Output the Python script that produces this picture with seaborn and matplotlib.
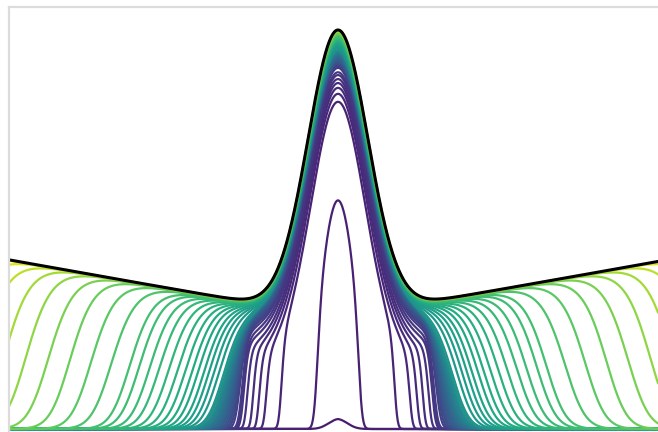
import numpy as np
import pandas as pd
import matplotlib
matplotlib.use("Agg")
import matplotlib.pyplot as plt
import seaborn as sns

# ---- envelope parameters (y in px above the baseline) ----
env_base = 109.5
env_slope = 0.18
env_round = 40.0
env_peak = 282.3
env_width = 30.0

# ---- level at which the front positions were read, and the tiny first bump ----
read_level = 89.0
bump_amp = 0.025
bump_front = 14.0

# ---- curves, inner (purple) to outer (yellow); first entry is the tiny bump ----
# distance from centre where each curve crosses read_level
front_cross = [None, 19.5, 53, 64, 71, 77, 82, 85, 87.5, 89.5,
               91, 91.8, 92.5, 93.2, 93.9, 94.5, 95.1, 95.7, 96.3, 96.9, 97.5, 98.1, 98.7, 99.3, 100, 101,
               103, 108, 113, 118, 123, 129, 135, 142, 150, 159, 169, 179, 190, 200,
               219, 240, 262, 284, 307, 329, 352, 376, 400]
front_s = [6, 2.5, 2, 2, 2, 2, 2.2, 2.4, 2.6, 2.8,
           3.5, 4, 4.5, 5, 5.5, 6, 6.5, 7, 7.5, 8, 8.5, 9, 9.5, 10, 10.5, 11,
           11, 11.2, 11.4, 11.6, 11.8, 12, 12.2, 12.4, 12.6, 12.8, 13, 13, 13, 13,
           13.5, 13.5, 13.5, 14, 14, 14, 14, 14, 14]
center_amp = [bump_amp, 0.573, 0.82, 0.84, 0.855, 0.867, 0.877, 0.887, 0.894, 0.905,
              0.91, 0.913, 0.916, 0.919, 0.922, 0.925, 0.928, 0.931, 0.934, 0.937, 0.94, 0.942, 0.944, 0.946, 0.948, 0.95,
              0.955, 0.958, 0.961, 0.964, 0.967, 0.97, 0.972, 0.974, 0.976, 0.978, 0.98, 0.982, 0.984, 0.985,
              0.988, 0.99, 0.992, 0.994, 0.996, 0.997, 0.998, 0.999, 1.0]
inner_spread = [14, 30, 80, 95, 110, 125, 140, 160, 180, 200,
                220, 240, 260, 290, 320, 350, 390, 430, 480, 540, 620, 720, 850, 1000, 1300, 1600,
                1e6, 1e6, 1e6, 1e6, 1e6, 1e6, 1e6, 1e6, 1e6, 1e6, 1e6, 1e6, 1e6, 1e6,
                1e6, 1e6, 1e6, 1e6, 1e6, 1e6, 1e6, 1e6, 1e6]
color_val = [0.08, 0.09, 0.10, 0.11, 0.12, 0.13, 0.14, 0.15, 0.16, 0.17,
             0.19, 0.21, 0.23, 0.25, 0.27, 0.29, 0.31, 0.33, 0.35, 0.37, 0.39, 0.41, 0.43, 0.45, 0.47, 0.50,
             0.52, 0.535, 0.55, 0.565, 0.58, 0.595, 0.61, 0.625, 0.64, 0.655, 0.67, 0.68, 0.69, 0.70,
             0.72, 0.745, 0.77, 0.80, 0.83, 0.86, 0.90, 0.95, 1.0]
front_power = 2.0


def env_at(x):
    return env_base + env_slope * np.sqrt(x**2 + env_round**2) + env_peak * np.exp(-x**2 / (2 * env_width**2))


def logistic(z):
    return 1.0 / (1.0 + np.exp(-z))


def spread(x, g):
    return 1.0 / (1.0 + (x / g) ** 2)


x = np.linspace(-329, 320, 1500)
envelope = env_at(x)

frames = []
for k, (xc, s, a, g) in enumerate(zip(front_cross, front_s, center_amp, inner_spread)):
    if xc is None:
        d, p = bump_front, 1.0
        shape = np.exp(-x**2 / (2 * g**2))
    else:
        p = front_power
        target = read_level / (env_at(xc) * a * spread(xc, g))
        target = min(target, 0.98)
        lneed = target ** (1.0 / p)
        d = xc + s * np.log(lneed / (1 - lneed))
        shape = spread(x, g)
    w = a * shape * (logistic((d - np.abs(x)) / s) / logistic(d / s)) ** p
    frames.append(pd.DataFrame({"x": x, "y": envelope * w, "curve": k}))
df = pd.concat(frames, ignore_index=True)
env_df = pd.DataFrame({"x": x, "y": envelope})

sns.set_style("white")
fig = plt.figure(figsize=(6.58, 4.32), dpi=100)
ax = fig.add_axes([9 / 658, 0, 649 / 658, (432 - 6.5) / 432])

cmap = plt.get_cmap("viridis")
palette = [cmap(v) for v in color_val]
sns.lineplot(data=df, x="x", y="y", hue="curve", hue_order=list(range(len(front_s))),
             palette=palette, estimator=None, sort=False, legend=False, lw=1.6, ax=ax)
sns.lineplot(data=env_df, x="x", y="y", color="black", lw=2.2, estimator=None, sort=False, ax=ax)

ax.set_xlim(-329, 320)
ax.set_ylim(-3, 422.5)
ax.set_xticks([])
ax.set_yticks([])
ax.set_xlabel("")
ax.set_ylabel("")
for side in ["right", "bottom"]:
    ax.spines[side].set_visible(False)
for side in ["top", "left"]:
    ax.spines[side].set_color("#dcdcdc")
    ax.spines[side].set_linewidth(1.6)

fig.savefig("out.png", dpi=100)
